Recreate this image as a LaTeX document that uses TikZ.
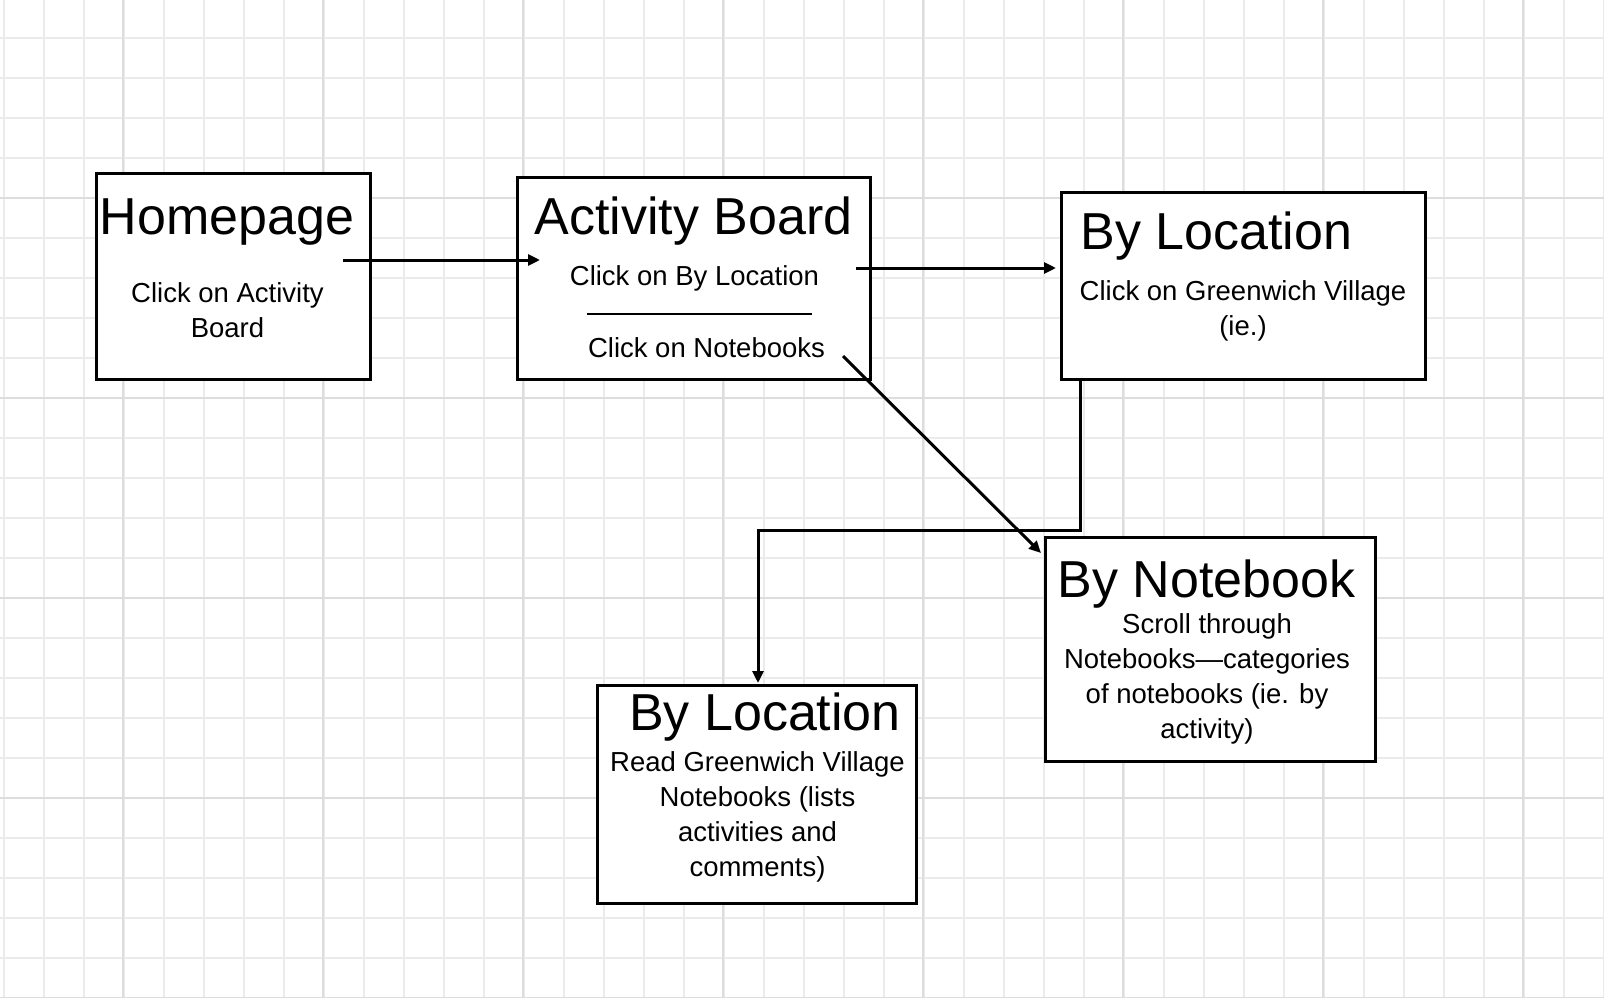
\documentclass[tikz,border=0pt]{standalone}
\usepackage{fontspec}
\setmainfont{Liberation Sans}
\usetikzlibrary{arrows.meta}

\begin{document}
\begin{tikzpicture}[
            x=1pt, y=-1pt,
            gridLine/.style={draw=gray!16, line width=1.2pt},
            gridMajor/.style={draw=gray!27, line width=1.2pt},
            box/.style={draw=black, line width=3.6pt, fill=white, inner sep=0pt},
            title/.style={anchor=base, inner sep=0pt, font=\fontsize{52}{60}\selectfont},
            body/.style={anchor=base, inner sep=0pt, align=center, font=\fontsize{27.5}{35}\selectfont},
            arr/.style={line width=3pt, -{Triangle[length=12pt, width=11pt]}}
        ]
        \useasboundingbox (0, 0) rectangle (1604, 998);
        \fill[white] (0, 0) rectangle (1604, 998);

        % grid paper
        \foreach \gx in {0,...,40}
            \draw[gridLine] ({4 + 40*\gx}, 0) -- ({4 + 40*\gx}, 998);
        \foreach \gy in {0,...,24}
            \draw[gridLine] (0, {38 + 40*\gy}) -- (1604, {38 + 40*\gy});
        \foreach \gx in {0,...,7}
            \draw[gridMajor] ({123 + 200*\gx}, 0) -- ({123 + 200*\gx}, 998);
        \foreach \gy in {0,...,4}
            \draw[gridMajor] (0, {198 + 200*\gy}) -- (1604, {198 + 200*\gy});

        % boxes
        \node(homeBox)[box, minimum width=274pt, minimum height=206pt] at (233.5, 276.5) {};
        \node(boardBox)[box, minimum width=353pt, minimum height=202pt] at (694, 278.5) {};
        \node(locBox)[box, minimum width=364pt, minimum height=187pt] at (1243.5, 286) {};
        \node(notebookBox)[box, minimum width=330pt, minimum height=224pt] at (1210.5, 649.5) {};
        \node(readBox)[box, minimum width=319pt, minimum height=218pt] at (757, 794.5) {};

        % texts (multi-line ones sit on their last baseline)
        \node(homeTitle)[title] at (227, 234) {Homepage};
        \node(homeText)[body] at (227.5, 337) {Click on Activity\\Board};

        \node(boardTitle)[title] at (693.5, 234) {Activity Board};
        \node(boardLoc)[body] at (694.5, 285) {Click on By Location};
        \draw[line width=1.2pt] (587, 314) -- (812, 314);
        \node(boardNotes)[body] at (706.5, 357) {Click on Notebooks};

        \node(locTitle)[title] at (1216.5, 249) {By Location};
        \node(locText)[body] at (1243, 335) {Click on Greenwich Village\\(ie.)};

        \node(notebookTitle)[title] at (1206.5, 597) {By Notebook};
        \node(notebookText)[body] at (1207, 738) {Scroll through\\Notebooks—categories\\of notebooks (ie. by\\activity)};

        \node(readTitle)[title] at (765, 730) {By Location};
        \node(readText)[body] at (757.5, 876) {Read Greenwich Village\\Notebooks (lists\\activities and\\comments)};

        % connector ends
        \coordinate (homeOut) at (343, 260);
        \coordinate (boardIn) at (540, 260);
        \coordinate (boardOut) at (856, 268);
        \coordinate (locIn) at (1056, 268);
        \coordinate (notesOut) at (843, 356);
        \coordinate (notebookIn) at (1041, 553);
        \coordinate (locOut) at (1080, 380);
        \coordinate (elbow) at (1080, 530);
        \coordinate (readIn) at (758, 683);

        \draw[arr] (homeOut) -- (boardIn);
        \draw[arr] (boardOut) -- (locIn);
        \draw[arr] (notesOut) -- (notebookIn);
        \draw[arr] (locOut) -- (elbow) -| (readIn);
    \end{tikzpicture}
\end{document}
